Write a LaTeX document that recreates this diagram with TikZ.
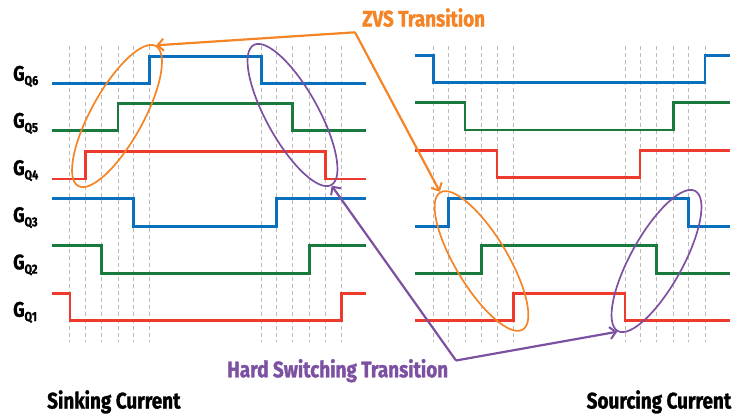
\documentclass[tikz,border=0pt]{standalone}
\usepackage{fontspec}
\newfontfamily\cond[FakeStretch=0.84, FakeBold=1.3]{Fira Sans Bold}
\usetikzlibrary{arrows.meta,shapes.geometric}
\definecolor{sigblue}{HTML}{0A6FBD}
\definecolor{siggreen}{HTML}{1A7A3E}
\definecolor{sigred}{HTML}{EE3A2C}
\definecolor{zvsorange}{HTML}{F58426}
\definecolor{hardpurple}{HTML}{7D51A1}
\definecolor{gridgray}{HTML}{BBBBBB}
\newcommand{\gq}[1]{{\fontsize{21}{21}\selectfont G}\raisebox{-4.3pt}{\fontsize{13}{13}\selectfont Q#1}}
\tikzset{
  sig/.style={line width=2.7pt, line join=miter},
  grid line/.style={gridgray, line width=0.8pt, dash pattern=on 4pt off 3pt},
  glabel/.style={anchor=base west, inner sep=0pt, font=\cond},
  title/.style={anchor=base west, inner sep=0pt, font=\cond\fontsize{22.5}{22.5}\selectfont},
  ring/.style={draw, ellipse, line width=1.7pt, minimum width=160pt, minimum height=52pt, inner sep=0pt},
  pointer/.style={line width=2.2pt, line join=miter, -{Straight Barb[length=6pt, width=12pt, line width=2pt]}},
}
\begin{document}
\begin{tikzpicture}[x=1pt, y=-1pt]
\useasboundingbox (0,0) rectangle (734,413);
% grid lines
\foreach \gx in {69.3,85.3,101.3,118,133.3,149.3,261.3,276.7,292.7,309.3,325.3,341.3,
                 433.3,448.7,465,481.7,497,513.3,625,640,656.7,673.3,688.3,705}
  \draw[grid line] (\gx,46) -- (\gx,342);
% labels
\node[glabel] (l6) at (13,80.7) {\gq{6}};
\node[glabel] (l5) at (13,127.7) {\gq{5}};
\node[glabel] (l4) at (13,175) {\gq{4}};
\node[glabel] (l3) at (13,222) {\gq{3}};
\node[glabel] (l2) at (13,269.3) {\gq{2}};
\node[glabel] (l1) at (13,316.7) {\gq{1}};
% left waveforms (sinking)
\draw[sig, sigblue]  (52,83.3) -- (149.3,83.3) -- (149.3,56.7) -- (261.3,56.7) -- (261.3,83.3) -- (366,83.3);
\draw[sig, siggreen] (52,130.7) -- (118,130.7) -- (118,103.3) -- (292.7,103.3) -- (292.7,130.7) -- (366,130.7);
\draw[sig, sigred]   (52,179) -- (85.3,179) -- (85.3,151.7) -- (325.3,151.7) -- (325.3,179) -- (366,179);
\draw[sig, sigblue]  (52,198.3) -- (133.3,198.3) -- (133.3,226.3) -- (276.7,226.3) -- (276.7,198.3) -- (366,198.3);
\draw[sig, siggreen] (52,245.7) -- (101.3,245.7) -- (101.3,273.3) -- (309.3,273.3) -- (309.3,245.7) -- (366,245.7);
\draw[sig, sigred]   (52,293.7) -- (70,293.7) -- (70,320.7) -- (341.3,320.7) -- (341.3,293.7) -- (366,293.7);
% right waveforms (sourcing)
\draw[sig, sigblue]  (415,55.5) -- (433.3,55.5) -- (433.3,82.7) -- (705,82.7) -- (705,55.5) -- (730,55.5);
\draw[sig, siggreen] (415,102.7) -- (465,102.7) -- (465,130) -- (673.3,130) -- (673.3,102.7) -- (730,102.7);
\draw[sig, sigred]   (415,150.7) -- (497,150.7) -- (497,177.7) -- (640,177.7) -- (640,150.7) -- (730,150.7);
\draw[sig, sigblue]  (415,226.3) -- (448.7,226.3) -- (448.7,198.7) -- (688.3,198.7) -- (688.3,226.3) -- (730,226.3);
\draw[sig, siggreen] (415,273.3) -- (481.7,273.3) -- (481.7,245.7) -- (656.7,245.7) -- (656.7,273.3) -- (730,273.3);
\draw[sig, sigred]   (415,320.7) -- (513.3,320.7) -- (513.3,293.7) -- (625,293.7) -- (625,320.7) -- (730,320.7);
% ellipses
\node[ring, zvsorange, rotate=61] (zl) at (117,116) {};
\node[ring, zvsorange, rotate=-59] (zr) at (481.5,261) {};
\node[ring, hardpurple, rotate=-61] (hl) at (292.5,115) {};
\node[ring, hardpurple, rotate=61] (hr) at (656.5,261) {};
% titles
\node[title, zvsorange] (zvs) at (362,26.5) {ZVS Transition};
\node[title, hardpurple] (hard) at (227,377.3) {Hard Switching Transition};
\node[title] (sink) at (47,408.5) {Sinking Current};
\node[title] (source) at (586.5,408.5) {Sourcing Current};
% pointers
\coordinate (zv) at (355,32.3);
\coordinate (hv) at (456,360.5);
\draw[pointer, zvsorange] (zv) -- (zl.east);
\draw[pointer, zvsorange] (zv) -- (zr.west);
\draw[pointer, hardpurple] (hv) -- (hl.east);
\draw[pointer, hardpurple] (hv) -- (hr.west);
\end{tikzpicture}
\end{document}
